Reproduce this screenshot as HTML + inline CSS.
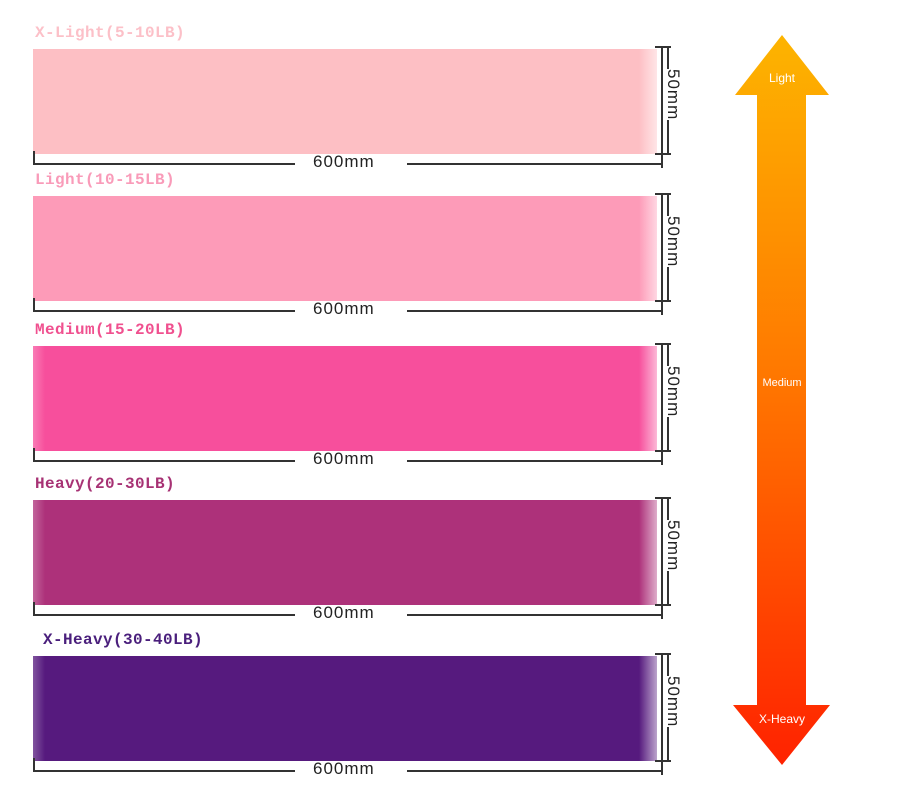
<!DOCTYPE html>
<html><head><meta charset="utf-8">
<style>
body{margin:0;width:905px;height:807px;background:#fff;position:relative;overflow:hidden;font-family:"Liberation Mono",monospace;}
.lbl{position:absolute;font-size:16px;font-weight:bold;white-space:nowrap;letter-spacing:0.4px;}
.band{position:absolute;left:33px;width:624px;}
.hl{position:absolute;height:1.5px;background:#333;}
.vl{position:absolute;width:1.5px;background:#333;}
.dim{position:absolute;font-family:"Liberation Sans",sans-serif;font-size:17px;color:#222;letter-spacing:1px;}
.vdim{position:absolute;font-family:"Liberation Sans",sans-serif;font-size:17px;color:#222;transform:rotate(90deg);transform-origin:left top;letter-spacing:1px;}
</style></head><body>
<div id="bands"></div>
<svg width="905" height="807" style="position:absolute;left:0;top:0">
<defs><linearGradient id="g" x1="0" y1="0" x2="0" y2="1">
<stop offset="0" stop-color="#fdb400"/><stop offset="0.45" stop-color="#ff7a00"/><stop offset="1" stop-color="#ff2200"/></linearGradient></defs>
<polygon points="782,35 829,95 806,95 806,705 830,705 782,765 733,705 757,705 757,95 735,95" fill="url(#g)"/>
<text x="782" y="82" text-anchor="middle" font-family="Liberation Sans,sans-serif" font-size="12" fill="#fff">Light</text>
<text x="782" y="386" text-anchor="middle" font-family="Liberation Sans,sans-serif" font-size="11" fill="#fff">Medium</text>
<text x="782" y="723" text-anchor="middle" font-family="Liberation Sans,sans-serif" font-size="12" fill="#fff">X-Heavy</text>
</svg>
<script>
const names=["X-Light(5-10LB)","Light(10-15LB)","Medium(15-20LB)","Heavy(20-30LB)","X-Heavy(30-40LB)"];
const tops=[49,196,346,500,656];
const colors=["#fdbfc4","#fd9bb8","#f74f9c","#ad317a","#561a7e"];
const labelColors=["#fcc0c8","#f99bb9","#f0508f","#a73274","#4a1f7c"];
const host=document.getElementById('bands');
names.forEach((n,i)=>{
  const t=tops[i];
  const l=document.createElement('div');l.className='lbl';
  
  
  l.style.left=(i==4?43:35)+'px';l.style.top=(t-25)+'px';l.style.color=labelColors[i];l.textContent=n;host.appendChild(l);
  const b=document.createElement('div');b.className='band';
  
  
  b.style.top=t+'px';b.style.height='105px';
  b.style.background='linear-gradient(to right,'+(i>=2?'rgba(255,255,255,0.25)':colors[i])+' 0px,'+colors[i]+' 12px,'+colors[i]+' 606px,rgba(255,255,255,0.6) 624px),'+colors[i];
  host.appendChild(b);
  const y=t+114;
  const a=document.createElement('div');a.className='hl';a.style.left='33px';a.style.width='262px';a.style.top=y+'px';
  
  
  host.appendChild(a);
  const c=document.createElement('div');c.className='hl';c.style.left='407px';c.style.width='255px';c.style.top=y+'px';
  
  
  host.appendChild(c);
  const v1=document.createElement('div');v1.className='vl';v1.style.left='33px';v1.style.top=(y-12)+'px';v1.style.height='13px';
  
  
  host.appendChild(v1);
  const v2=document.createElement('div');v2.className='vl';v2.style.left='661px';v2.style.top=(t-3)+'px';v2.style.height='122px';
  
  
  host.appendChild(v2);
  [t-3,t+104].forEach(yy=>{const h=document.createElement('div');h.className='hl';h.style.left='655px';h.style.width='16px';h.style.top=yy+'px';
    
    
    host.appendChild(h);});
  const v3=document.createElement('div');v3.className='vl';v3.style.left='667px';v3.style.top=(t-3)+'px';v3.style.height='108px';
  
  
  host.appendChild(v3);
  const d=document.createElement('div');d.className='dim';d.style.left='313px';d.style.top=(y-11)+'px';d.textContent='600mm';
  
  
  host.appendChild(d);
  const w=document.createElement('div');w.className='vdim';w.style.left='683px';w.style.top=(t+20)+'px';w.style.background='#fff';w.textContent='50mm';
  
  
  host.appendChild(w);
});
</script>
</body></html>
